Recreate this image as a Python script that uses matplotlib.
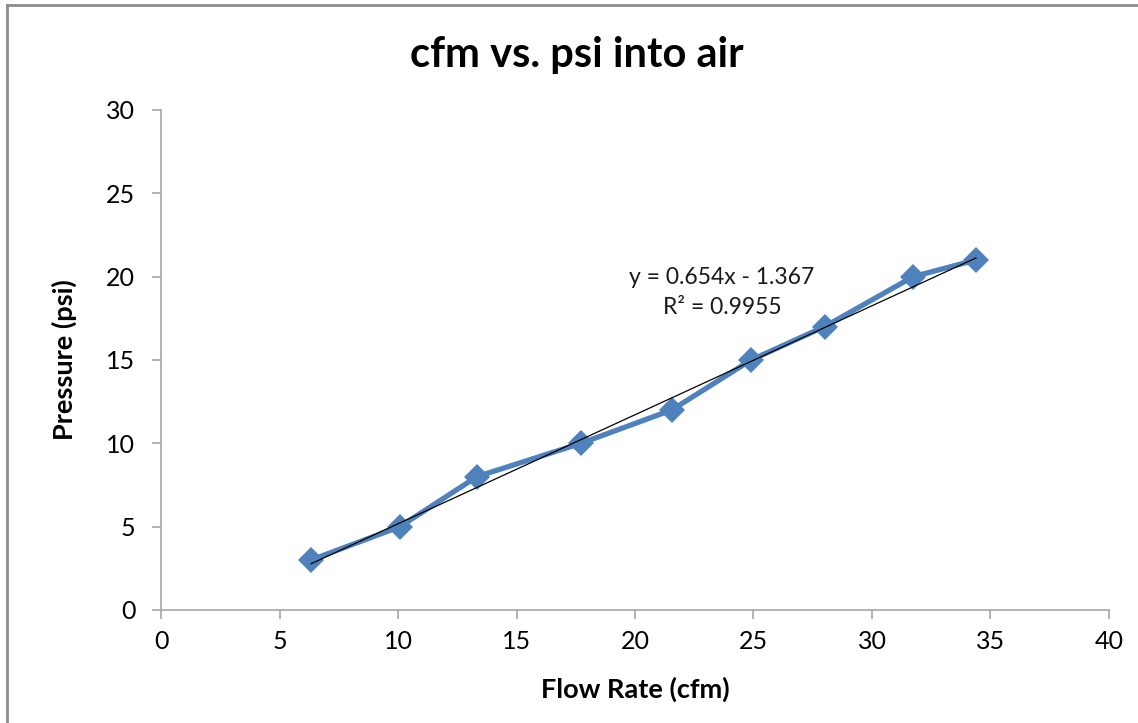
import matplotlib
matplotlib.use("Agg")
import matplotlib.pyplot as plt
from matplotlib.lines import Line2D

# ── Data ──────────────────────────────────────────────────────────────────────
flow_cfm = [6.33, 10.08, 13.33, 17.72, 21.55, 24.9, 28.0, 31.74, 34.39]
pressure_psi = [3, 5, 8, 10, 12, 15, 17, 20, 21]
trend_slope = 0.654
trend_intercept = -1.367
trend_r2 = 0.9955
x_ticks = [0, 5, 10, 15, 20, 25, 30, 35, 40]
y_ticks = [0, 5, 10, 15, 20, 25, 30]

plt.rcParams["font.family"] = ["Lato", "DejaVu Sans"]
BLUE = "#4F81BD"
AXIS_GRAY = "#A6A6A6"

fig = plt.figure(figsize=(11.38, 7.23), dpi=100)
ax = fig.add_axes([0.1415, 0.1563, 0.833, 0.6916])

ax.plot(flow_cfm, pressure_psi, "-", color=BLUE, linewidth=3.8,
        marker="D", markersize=13, markeredgewidth=0, zorder=2)

# linear trendline across the data range
x0, x1 = min(flow_cfm), max(flow_cfm)
ax.plot([x0, x1],
        [trend_slope * x0 + trend_intercept, trend_slope * x1 + trend_intercept],
        color="black", linewidth=0.9, zorder=3)

ax.text(23.67, 19.05, f"y = {trend_slope}x - {abs(trend_intercept)}\nR² = {trend_r2}",
        ha="center", va="center", fontsize=16.5, linespacing=1.55, color="#1a1a1a")

ax.set_xlim(0, 40)
ax.set_ylim(0, 30)
ax.set_xticks(x_ticks)
ax.set_yticks(y_ticks)
ax.tick_params(axis="both", direction="out", length=6.5, width=1.2,
               color=AXIS_GRAY, labelsize=18, pad=8)
ax.tick_params(axis="y", pad=12)

for side in ("top", "right"):
    ax.spines[side].set_visible(False)
for side in ("left", "bottom"):
    ax.spines[side].set_color(AXIS_GRAY)
    ax.spines[side].set_linewidth(1.2)

ax.set_xlabel("Flow Rate (cfm)", fontsize=19.5, fontweight="bold", labelpad=17)
ax.set_ylabel("Pressure (psi)", fontsize=19.5, fontweight="bold", labelpad=21)

fig.text(0.507, 0.924, "cfm vs. psi into air", ha="center", va="center",
         fontsize=30, fontweight="bold")

# chart-area border (left and top edges visible)
fig.add_artist(Line2D([0.0065, 0.0065], [0, 0.9925], transform=fig.transFigure,
                      color="#8C8C8C", linewidth=2))
fig.add_artist(Line2D([0.0065, 1], [0.9925, 0.9925], transform=fig.transFigure,
                      color="#8C8C8C", linewidth=2))

fig.savefig("out.png", dpi=100)
